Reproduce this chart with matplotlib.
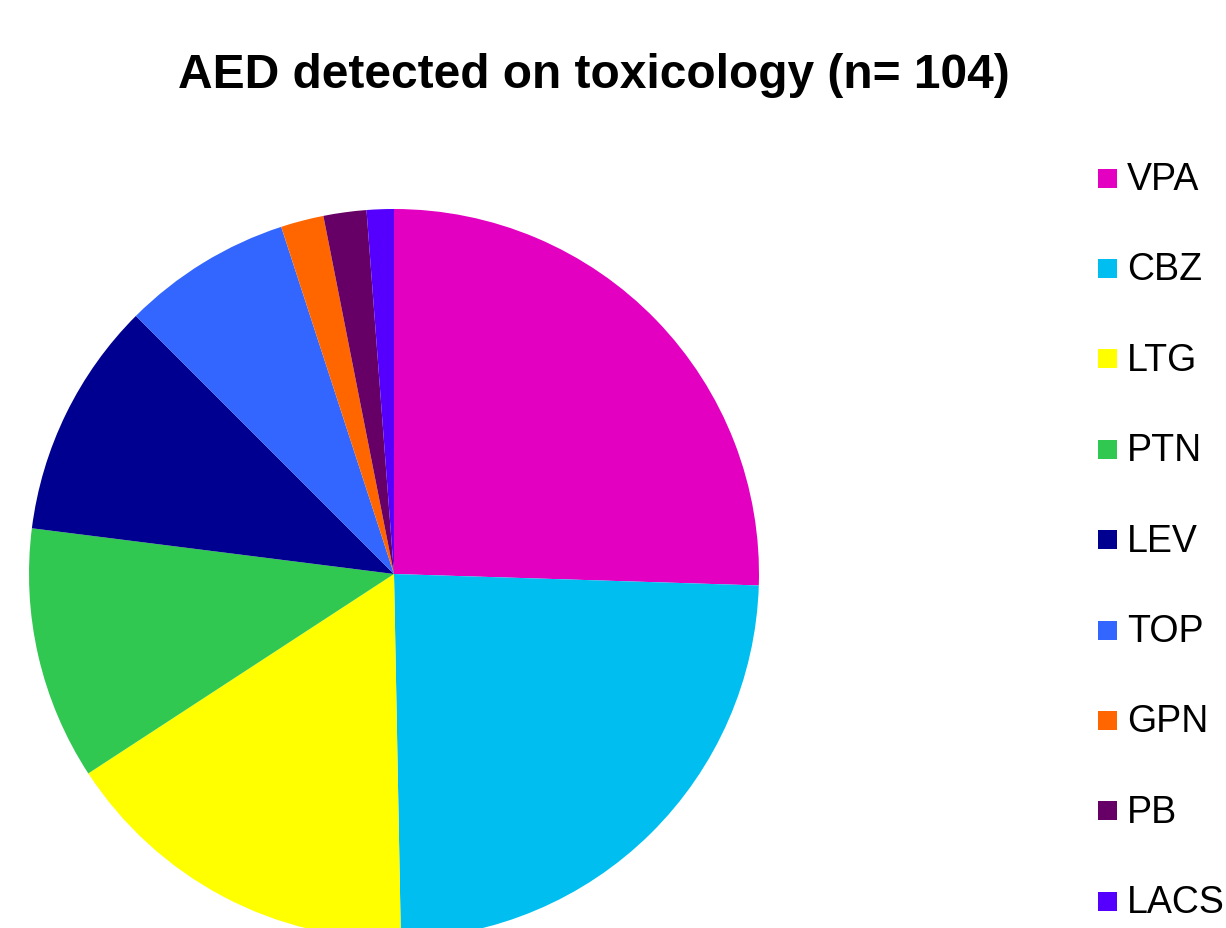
import matplotlib
matplotlib.use("Agg")
import matplotlib.pyplot as plt
from matplotlib.patches import Rectangle

# AEDs detected on toxicology screening (share of detections)
drugs = ["VPA", "CBZ", "LTG", "PTN", "LEV", "TOP", "GPN", "PB", "LACS"]
shares = [25.5, 24.2, 16.1, 11.2, 10.5, 7.5, 1.9, 1.9, 1.2]
colors = ["#E300C0", "#00BFF0", "#FFFF00", "#30C850", "#000090",
          "#3366FF", "#FF6600", "#660066", "#5500FF"]

W, H, DPI = 1226, 929, 100
fig = plt.figure(figsize=(W / DPI, H / DPI), dpi=DPI)
plt.rcParams["font.family"] = ["Liberation Sans", "DejaVu Sans"]

# Full-figure axes; pie of radius 1 centred at pixel (394, 575), 365 px radius
cx, cy, r = 394.0, 575.0, 365.0
ax = fig.add_axes([0, 0, 1, 1])
ax.pie(shares, colors=colors, startangle=90, counterclock=False,
       radius=1.0, wedgeprops=dict(linewidth=0))
ax.set_aspect("auto")
ax.set_xlim(-cx / r, (W - cx) / r)
ax.set_ylim((cy - H) / r, cy / r)
ax.axis("off")

fig.text(594 / W, 1 - 88 / H, "AED detected on toxicology (n= 104)",
         ha="center", va="baseline", fontsize=34.5, fontweight="bold")

# Legend column
sq = 19
for i, (name, col) in enumerate(zip(drugs, colors)):
    base = 190 + i * 90.4
    fig.patches.append(Rectangle((1098 / W, 1 - (base - 1.5) / H), sq / W, sq / H,
                                 transform=fig.transFigure, facecolor=col,
                                 edgecolor="none"))
    fig.text(1127 / W, 1 - base / H, name, ha="left", va="baseline",
             fontsize=27)

fig.savefig("out.png", dpi=DPI)
